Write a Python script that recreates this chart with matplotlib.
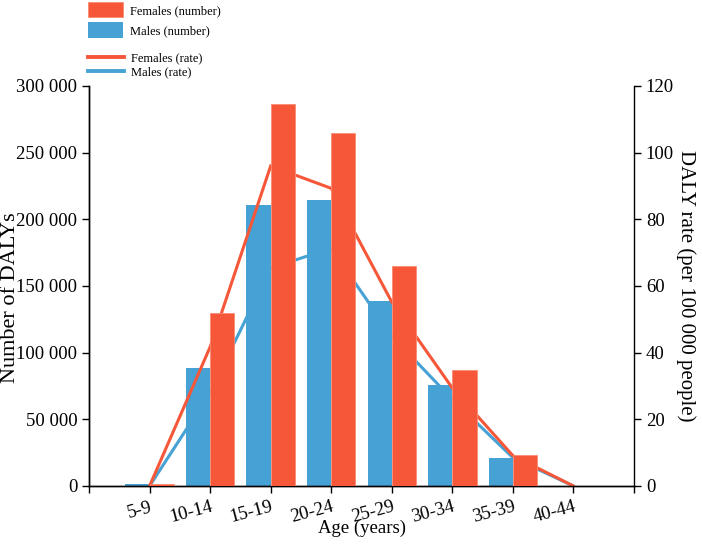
import matplotlib.pyplot as plt
import numpy as np
from matplotlib.patches import Patch
from matplotlib.lines import Line2D
from matplotlib.ticker import FuncFormatter

plt.rcParams['font.family'] = ['Liberation Serif', 'DejaVu Serif']

ages = ['5-9', '10-14', '15-19', '20-24', '25-29', '30-34', '35-39', '40-44']
females_number = [1200, 129500, 286300, 264500, 165300, 87000, 23200, 0]
males_number = [1500, 88700, 210700, 214500, 138700, 75700, 20700, 0]
females_rate = [0, 41.7, 96.0, 89.3, 55.2, 29.4, 9.1, 0]
males_rate = [0, 28.0, 65.4, 71.3, 45.0, 26.0, 8.5, 0]

red = '#F65739'
blue = '#46A2D4'

fig = plt.figure(figsize=(7.02, 5.48), dpi=100)
rect = [89 / 702, 1 - 486 / 548, 545 / 702, 400 / 548]
ax = fig.add_axes(rect)
ax2 = ax.twinx()
ax3 = fig.add_axes(rect, sharex=ax, sharey=ax)

x = np.arange(len(ages))

# males bars at the bottom, lines in between, females bars on top
ax.bar(x - 0.2, males_number, width=0.4, color=blue, linewidth=0)
ax2.plot(x, males_rate, color=blue, lw=2.2, solid_joinstyle='miter')
ax2.plot(x, females_rate, color=red, lw=2.2, solid_joinstyle='miter')
ax3.bar(x + 0.2, females_number, width=0.4, color=red,
        edgecolor='#F98C74', linewidth=0.6)
ax3.axis('off')

ax.set_xlim(-1, 8)
ax.set_ylim(0, 300000)
ax2.set_ylim(0, 120)

ax.set_xticks(np.arange(-1, 9))
ax.set_xticklabels([''] + ages + [''], rotation=15, ha='right',
                   rotation_mode='anchor', fontsize=13)
ax.set_yticks(np.arange(0, 300001, 50000))
ax.yaxis.set_major_formatter(FuncFormatter(lambda v, p: f'{int(v):,}'.replace(',', ' ')))
ax2.set_yticks(np.arange(0, 121, 20))

for a in (ax, ax2):
    a.spines['top'].set_visible(False)
    for s in a.spines.values():
        s.set_linewidth(1.0)
    a.tick_params(direction='out', length=5, width=1.0, labelsize=13.5)
ax.tick_params(axis='x', pad=4)
ax.spines['right'].set_visible(False)

ax.set_xlabel('Age (years)', fontsize=13.5)
ax.xaxis.set_label_coords(0.5, -0.083)
ax.set_ylabel('Number of DALYs', fontsize=16)
ax.yaxis.set_label_coords(-0.127, 0.47)
ax2.set_ylabel('DALY rate (per 100 000 people)', fontsize=15,
               rotation=270, labelpad=16)

bar_handles = [Patch(facecolor=red, edgecolor='#F98C74', lw=0.6),
               Patch(facecolor=blue)]
fig.legend(bar_handles, ['Females (number)', 'Males (number)'],
           loc='upper left', bbox_to_anchor=(88 / 702, 1 - 2 / 548),
           frameon=False, fontsize=9, handlelength=2.8, handleheight=1.52,
           handletextpad=0.55, labelspacing=0.4, borderpad=0, borderaxespad=0)
line_handles = [Line2D([], [], color=red, lw=2.8), Line2D([], [], color=blue, lw=2.8)]
fig.legend(line_handles, ['Females (rate)', 'Males (rate)'],
           loc='upper left', bbox_to_anchor=(88 / 702, 1 - 52 / 548),
           frameon=False, fontsize=9, handlelength=2.9,
           handletextpad=0.55, labelspacing=0.2, borderpad=0, borderaxespad=0)

fig.savefig('out.png', dpi=100)
